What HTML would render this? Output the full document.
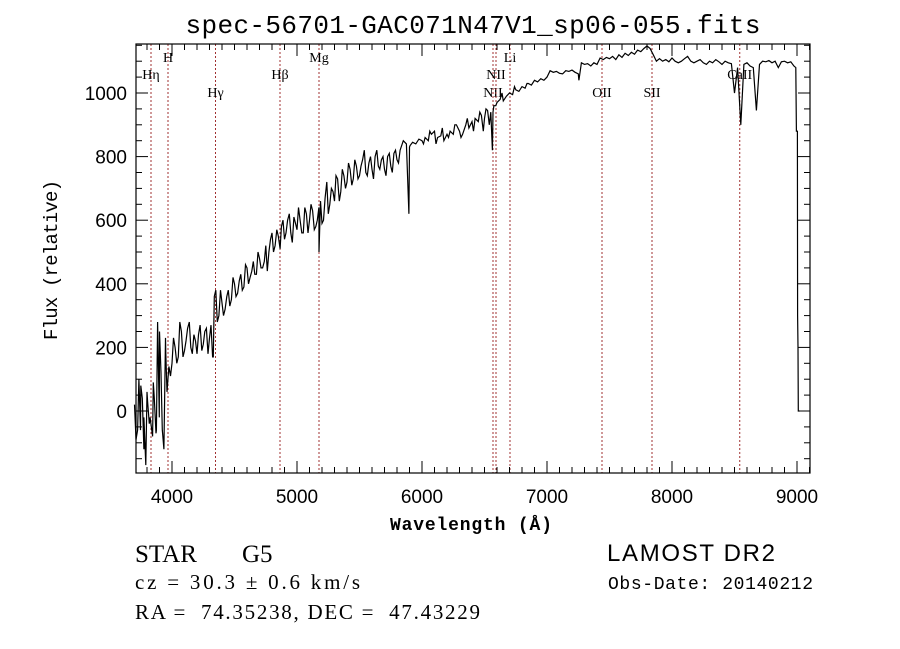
<!DOCTYPE html>
<html><head><meta charset="utf-8">
<style>
html,body{margin:0;padding:0;background:#fff;}
svg{display:block;}
text{white-space:pre;}
</style></head>
<body>
<svg id="chart" width="900" height="649" viewBox="0 0 900 649" xmlns="http://www.w3.org/2000/svg" xml:space="preserve">
<rect x="0" y="0" width="900" height="649" fill="#fff"/>
<text x="473" y="33" text-anchor="middle" font-family="Liberation Mono, monospace" font-size="26" textLength="575">spec-56701-GAC071N47V1_sp06-055.fits</text>
<g id="lines"></g>
<g id="axes"></g>
<path id="spec" fill="none" stroke="#000" stroke-width="1.2"/>
<text x="390" y="530" textLength="162" font-family="Liberation Mono, monospace" font-weight="bold" font-size="18">Wavelength (Å)</text>
<text transform="translate(57,260) rotate(-90)" text-anchor="middle" font-family="Liberation Mono, monospace" font-size="19" textLength="160">Flux (relative)</text>
<text x="135" y="562" font-family="Liberation Serif, serif" font-size="25">STAR</text>
<text x="242" y="562" font-family="Liberation Serif, serif" font-size="25">G5</text>
<text x="135" y="589" textLength="225" font-family="Liberation Serif, serif" font-size="21">cz = 30.3 ± 0.6 km/s</text>
<text x="135" y="619" textLength="345" font-family="Liberation Serif, serif" font-size="21">RA =  74.35238, DEC =  47.43229</text>
<text x="607" y="561" textLength="168" font-family="Liberation Sans, sans-serif" font-size="24">LAMOST DR2</text>
<text x="608" y="589" textLength="205" font-family="Liberation Mono, monospace" font-size="18">Obs-Date: 20140212</text>
</svg>
<script>
const wlStart = 3700, wlStep = 25;
const flux = [20,-60,80,-120,60,-20,90,-60,250,-70,180,
140,150,200,170,250,190,260,200,240,180,270,210,260,230,170,380,300,340,320,380,350,400,370,430,390,450,420,470,430,480,450,520,500,560,520,550,580,540,600,560,610,570,600,560,620,600,630,580,640,590,670,620,700,660,730,690,740,720,760,730,770,740,790,750,780,760,800,770,790,760,800,770,810,790,820,850,840,830,845,840,855,850,860,850,870,880,860,865,850,870,880,870,900,880,870,900,890,910,920,910,930,920,945,940,960,970,980,975,990,1000,995,1010,1005,1020,1015,1030,1025,1040,1035,1045,1040,1050,1070,1065,1068,1062,1060,1070,1068,1072,1065,1060,1095,1090,1092,1085,1095,1090,1110,1105,1112,1108,1115,1105,1120,1112,1125,1118,1128,1122,1135,1130,1140,1148,1140,1120,1100,1108,1100,1105,1098,1110,1100,1095,1100,1108,1115,1100,1095,1100,1105,1095,1090,1100,1095,1105,1098,1090,1100,1095,1092,1000,1080,900,1090,1095,1085,1080,945,1090,1100,1098,1102,1095,1100,1080,1098,1100,1095,1098,1085];
const featWl = [3712,3735,3748,3762,3775,3790,3805,3818,3845,3858,3872,3885,3898,3912,3922,3935,3948,3960,3988,4012,4038,4062,4088,4112,4138,4162,4188,4212,4238,4262,4288,4312,4330,4338,4362,4388,4412,4438,4462,4488,4512,4538,4562,4588,4612,4638,4662,4688,4712,4738,4762,4788,4812,4838,4865,4888,4912,4938,4962,4988,5012,5038,5062,5088,5112,5138,5162,5176,5188,5212,5238,5262,5288,5312,5338,5362,5388,5412,5438,5462,5488,5512,5538,5562,5588,5612,5638,5662,5688,5712,5738,5762,5788,5812,5895,5905,6012,6062,6112,6162,6212,6262,6312,6362,6412,6462,6490,6512,6538,6563,6568,6590,6640,6740,6840,7255,8990,8995,9003,9005,9008,9010,9020];
const featFlux = [-90,100,-60,40,-20,-170,30,-40,-80,40,-70,280,-20,120,-60,-120,230,60,110,230,150,280,170,220,280,180,220,240,190,250,180,270,170,360,280,380,300,360,330,420,360,410,380,460,400,440,430,500,450,470,440,540,500,570,510,600,560,620,530,590,640,560,640,560,650,570,600,500,660,600,720,650,690,740,660,760,700,780,710,790,730,770,820,740,800,730,820,760,800,740,810,750,820,780,620,835,840,880,840,890,860,900,860,920,880,940,880,950,900,820,940,960,1000,1020,1030,1040,1080,880,880,300,200,0,0];
const lineWl = [3832,3968,4348,4864,5176,6568,6592,6704,7440,7840,8542];
const lineLabels = ['Hη','H','Hγ','Hβ','Mg','NII','NII','Li','OII','SII','CaII'];
const labelRow = [1,0,2,1,0,2,1,0,2,2,1];
const xTicks = [4000,5000,6000,7000,8000,9000];
const yTicks = [0,200,400,600,800,1000];

const L=136,R=810,T=44,B=473;
const X = w => 134.5 + (w-3700)*0.125;
const Y = f => 411 - f*0.318;
const NS='http://www.w3.org/2000/svg';
function mk(tag, attrs, parent){const e=document.createElementNS(NS,tag);for(const k in attrs)e.setAttribute(k,attrs[k]);parent.appendChild(e);return e;}
const axes=document.getElementById('axes'), lines=document.getElementById('lines');

let pts=flux.map((f,i)=>[wlStart+i*wlStep,f]);
featWl.forEach((w,i)=>pts.push([w,featFlux[i]]));
pts.sort((a,b)=>a[0]-b[0]);
document.getElementById('spec').setAttribute('d', pts.map((p,i)=>(i?'L':'M')+X(p[0]).toFixed(1)+' '+Y(p[1]).toFixed(1)).join(''));

const rowY=[62,79,97];
lineWl.forEach((w,i)=>{
  const ln=mk('line',{x1:X(w),x2:X(w),y1:T,y2:B,stroke:'#a03030','stroke-width':1,'stroke-dasharray':'2,2'},lines);
  
  
  const t=mk('text',{x:X(w),y:rowY[labelRow[i]],'text-anchor':'middle','font-family':'Liberation Serif, serif','font-size':14},lines);
  t.textContent=lineLabels[i];
  
  
});

const fr=mk('rect',{x:L,y:T,width:R-L,height:B-T,fill:'none',stroke:'#000','stroke-width':1.2},axes);


for(let w=3800;w<=9100;w+=100){
  const major=w%1000===0, len=major?12:6, x=X(w);
  mk('line',{x1:x,x2:x,y1:B,y2:B-len,stroke:'#000'},axes);
  mk('line',{x1:x,x2:x,y1:T,y2:T+len,stroke:'#000'},axes);
}
xTicks.forEach(w=>{
  const t=mk('text',{x:X(w),y:503,'text-anchor':'middle','font-family':'Liberation Sans, sans-serif','font-size':19},axes);
  t.textContent=w;
  
  
});
for(let f=-150;f<=1150;f+=50){
  const major=f%200===0, len=major?12:6, y=Y(f);
  if(y<T||y>B) continue;
  mk('line',{x1:L,x2:L+len,y1:y,y2:y,stroke:'#000'},axes);
  mk('line',{x1:R,x2:R-len,y1:y,y2:y,stroke:'#000'},axes);
}
yTicks.forEach(f=>{
  const t=mk('text',{x:127,y:Y(f)+7,'text-anchor':'end','font-family':'Liberation Sans, sans-serif','font-size':19},axes);
  t.textContent=f;
  
  
});
</script>
</body></html>
